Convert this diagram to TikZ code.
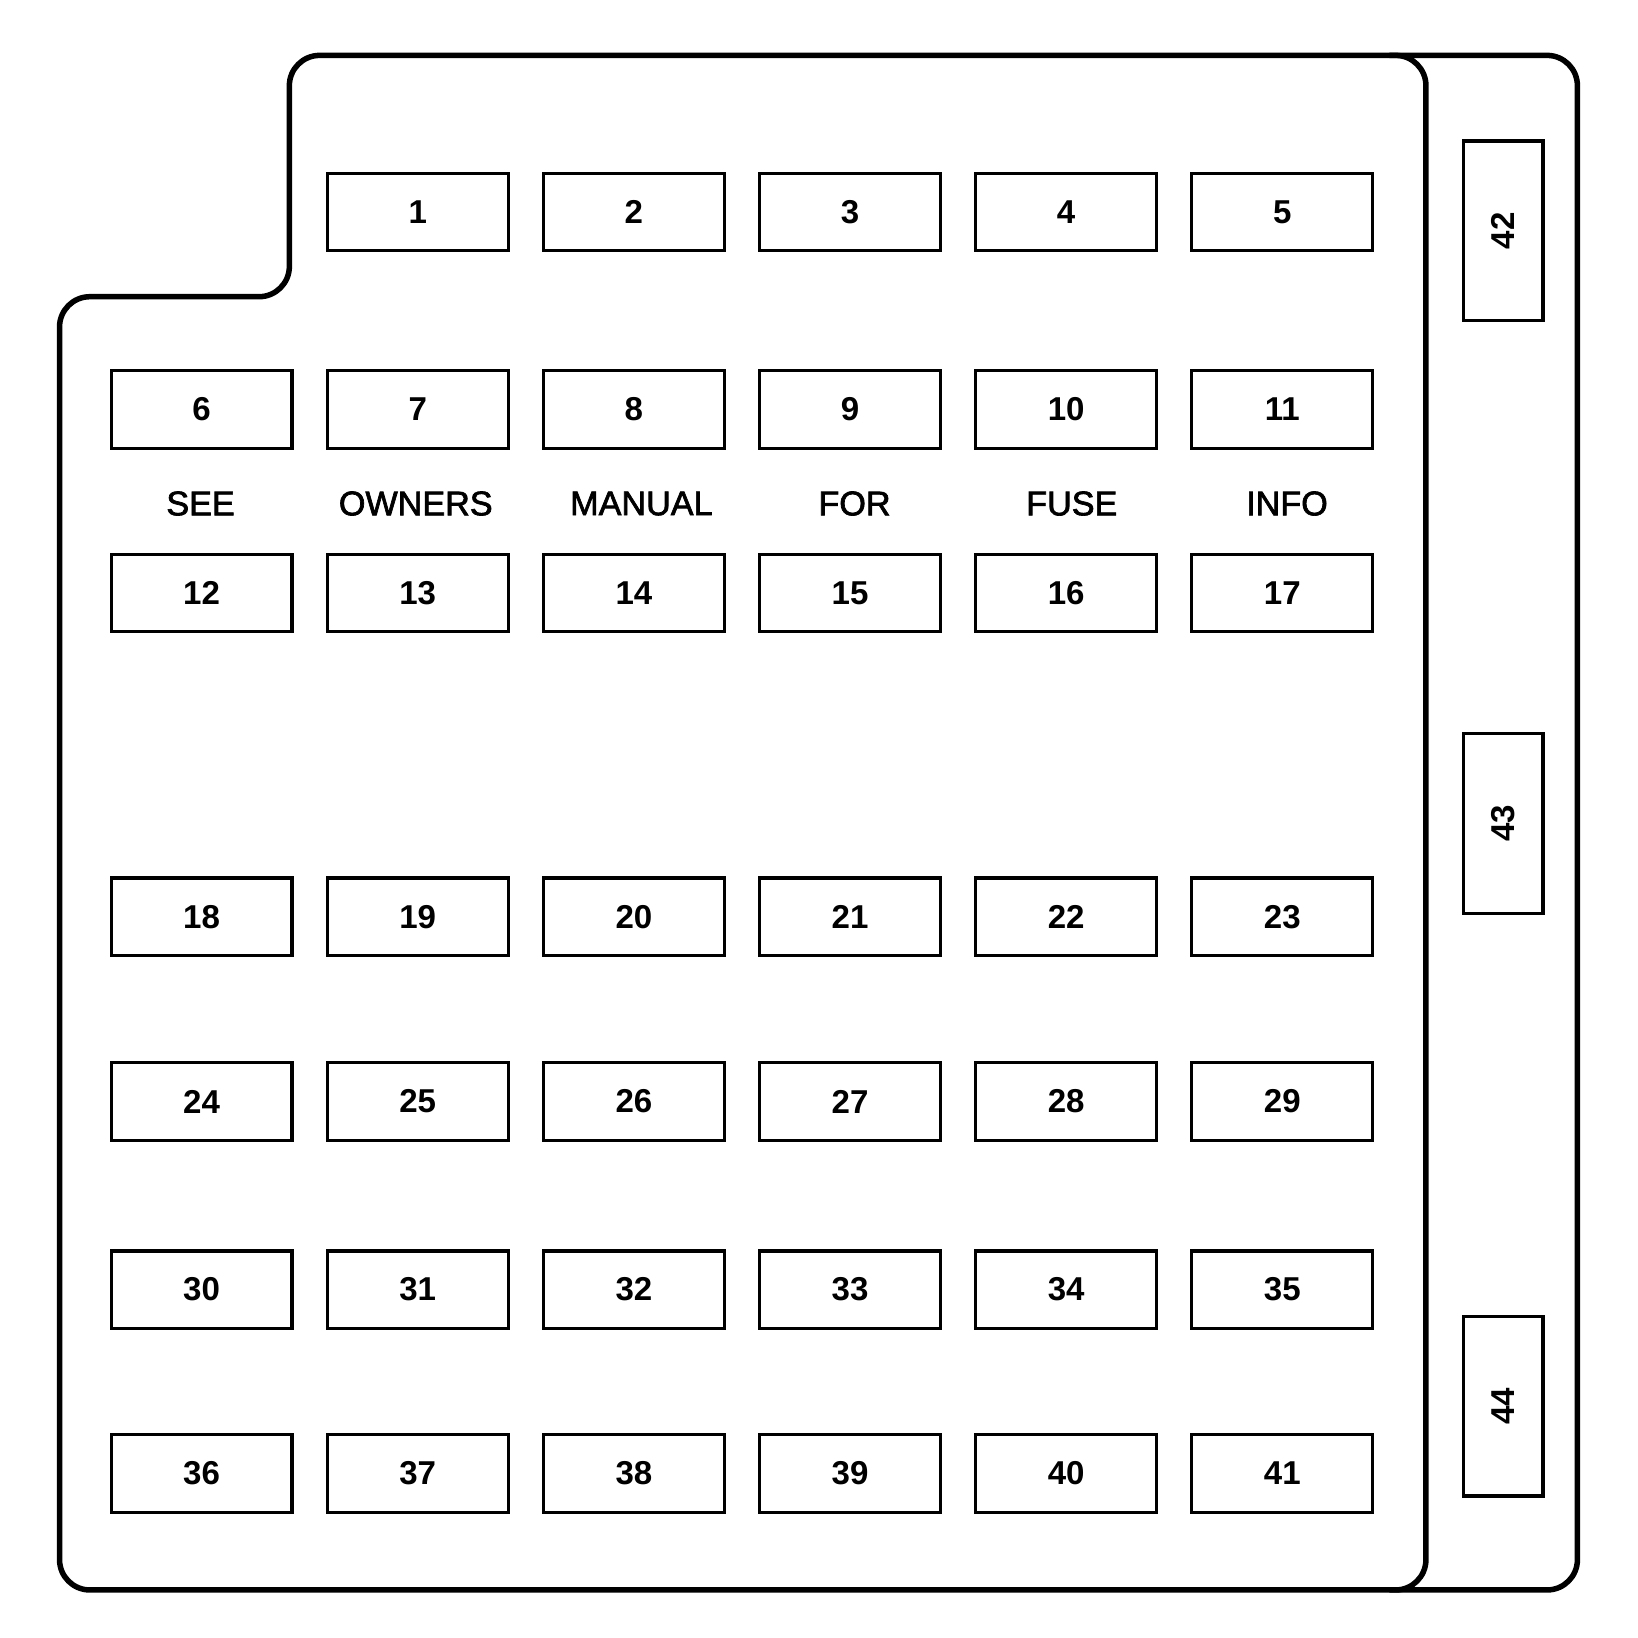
\documentclass[tikz,border=0pt]{standalone}
\usepackage{fontspec}
\setmainfont{Liberation Sans}
\newfontfamily\lblfont[FakeBold=2]{Liberation Sans}
\begin{document}
\begin{tikzpicture}[x=0.01cm,y=-0.01cm,
  fuse/.style={draw, line width=0.85pt, minimum width=1.73cm, minimum height=0.74cm, inner sep=0pt, font=\fontsize{9}{10}\selectfont\bfseries},
  vfuse/.style={draw, line width=0.85pt, rotate=90, minimum width=1.72cm, minimum height=0.76cm, inner sep=0pt, font=\fontsize{9}{10}\selectfont\bfseries},
  lbl/.style={font=\lblfont\fontsize{9.3}{10}\selectfont},
  outline/.style={line width=1.5pt, rounded corners=0.29cm}]
\useasboundingbox (0,0) rectangle (1568,1568);
% outline
\draw[outline] (700,53) -- (1365,53) -- (1365,1522) -- (57,1522) -- (57,284) -- (277,284) -- (277,53) -- cycle;
\draw[outline] (1330,53) -- (1510,53) -- (1510,1522) -- (1330,1522);
% row 1
\foreach \k in {1,...,5}{
  \pgfmathtruncatemacro\n{\k}
  \node[fuse] (f\n) at ({193+206.9*\k},203) {\n};
}
% other rows
\foreach \base/\yy in {6/392,12/567.5,18/877.5,24/1054.5,30/1234.5,36/1410.5}{
  \foreach \k in {0,...,5}{
    \pgfmathtruncatemacro\n{\base+\k}
    \node[fuse] (f\n) at ({193+206.9*\k},\yy) {\n};
  }
}
% right strip
\node[vfuse] (f42) at (1439,221) {42};
\node[vfuse] (f43) at (1439,788) {43};
\node[vfuse] (f44) at (1439,1346) {44};
% labels
\node[lbl] (l1) at (192,482) {SEE};
\node[lbl] (l2) at (398,482) {OWNERS};
\node[lbl] (l3) at (614,482) {MANUAL};
\node[lbl] (l4) at (818,482) {FOR};
\node[lbl] (l5) at (1026,482) {FUSE};
\node[lbl] (l6) at (1232,482) {INFO};
\end{tikzpicture}
\end{document}
